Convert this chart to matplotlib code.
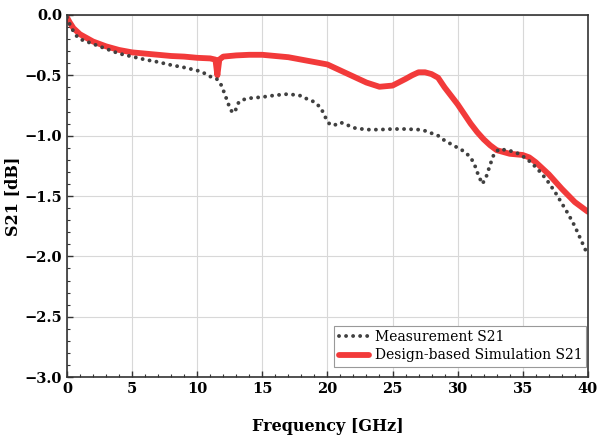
import matplotlib
matplotlib.use("Agg")
import matplotlib.pyplot as plt
from matplotlib.ticker import MultipleLocator

plt.rcParams['font.family'] = ['DejaVu Serif']

# Measurement S21 (dotted)
meas_f = [0, 0.3, 0.7, 1, 1.5, 2, 3, 4, 5, 6, 7, 8, 9, 10, 10.5, 11, 11.5, 11.8,
          12.1, 12.4, 12.7, 12.9, 13.2, 13.6, 14, 15, 16, 17, 18, 18.5, 19, 19.5,
          19.9, 20.2, 20.6, 21, 21.5, 22, 23, 24, 25, 26, 27, 27.5, 28, 28.5, 29,
          29.5, 30, 30.5, 31, 31.3, 31.6, 31.9, 32.2, 32.5, 32.8, 33.2, 34, 34.5,
          35, 35.5, 36, 36.5, 37, 37.5, 38, 38.5, 39, 39.5, 40]
meas_db = [-0.02, -0.10, -0.17, -0.20, -0.22, -0.24, -0.28, -0.32, -0.345, -0.37,
           -0.39, -0.415, -0.435, -0.46, -0.48, -0.51, -0.53, -0.57, -0.65, -0.74,
           -0.81, -0.80, -0.72, -0.70, -0.69, -0.68, -0.665, -0.655, -0.67, -0.70,
           -0.72, -0.77, -0.86, -0.91, -0.91, -0.89, -0.91, -0.935, -0.95, -0.95,
           -0.945, -0.945, -0.95, -0.96, -0.98, -1.00, -1.04, -1.07, -1.10, -1.13,
           -1.18, -1.24, -1.33, -1.40, -1.34, -1.24, -1.15, -1.11, -1.125, -1.14,
           -1.17, -1.21, -1.26, -1.32, -1.39, -1.47, -1.56, -1.65, -1.75, -1.87, -1.99]

# Design-based simulation S21 (solid red)
sim_f = [0, 0.2, 0.5, 1, 1.5, 2, 3, 4, 5, 6, 7, 8, 9, 10, 11, 11.4, 11.55, 11.7,
         12, 13, 14, 15, 16, 17, 18, 19, 20, 21, 22, 23, 24, 25, 26, 26.5, 27,
         27.5, 28, 28.5, 29, 29.5, 30, 30.5, 31, 31.5, 32, 32.5, 33, 34, 35, 35.5,
         36, 37, 38, 39, 40]
sim_db = [-0.02, -0.06, -0.11, -0.16, -0.19, -0.22, -0.26, -0.29, -0.31, -0.32,
          -0.33, -0.34, -0.345, -0.355, -0.36, -0.37, -0.50, -0.37, -0.345, -0.335,
          -0.33, -0.33, -0.34, -0.35, -0.37, -0.39, -0.41, -0.46, -0.51, -0.56,
          -0.595, -0.585, -0.53, -0.50, -0.475, -0.475, -0.49, -0.52, -0.60, -0.67,
          -0.74, -0.82, -0.90, -0.97, -1.03, -1.08, -1.12, -1.15, -1.16, -1.18,
          -1.22, -1.32, -1.44, -1.55, -1.63]

fig, ax = plt.subplots(figsize=(5.98, 4.40), dpi=100)
fig.subplots_adjust(left=0.112, right=0.983, top=0.966, bottom=0.143)

ax.plot(meas_f, meas_db, color='#404040', lw=2.8, linestyle=(0, (0.01, 1.8)),
        dash_capstyle='round', label='Measurement S21', zorder=3)
ax.plot(sim_f, sim_db, color='#f23a3a', lw=4.2, solid_capstyle='round',
        label='Design-based Simulation S21', zorder=2)

ax.set_xlim(0, 40)
ax.set_ylim(-3.0, 0.0)
ax.xaxis.set_major_locator(MultipleLocator(5))
ax.xaxis.set_minor_locator(MultipleLocator(1))
ax.yaxis.set_major_locator(MultipleLocator(0.5))
ax.yaxis.set_minor_locator(MultipleLocator(0.1))
ax.tick_params(which='both', direction='in', top=False, right=False, color='#333333')
ax.tick_params(which='major', length=4, width=1, labelsize=10.5)
ax.tick_params(which='minor', length=2.5, width=0.8)
for lab in ax.get_xticklabels() + ax.get_yticklabels():
    lab.set_fontweight('bold')

ax.grid(True, which='major', color='#d8d8d8', lw=0.8)
for s in ax.spines.values():
    s.set_color('#333333')
    s.set_linewidth(1.2)

ax.set_xlabel('Frequency [GHz]', fontsize=11.5, fontweight='bold')
ax.set_ylabel('S21 [dB]', fontsize=11.5, fontweight='bold')
ax.xaxis.set_label_coords(0.5, -0.112)
ax.yaxis.set_label_coords(-0.088, 0.5)

leg = ax.legend(loc='lower right', bbox_to_anchor=(1.0, 0.025), fontsize=10,
                fancybox=False, framealpha=1, edgecolor='#999999',
                handlelength=2.2, handletextpad=0.4, borderpad=0.3,
                labelspacing=0.3, borderaxespad=0.1)
leg.get_frame().set_linewidth(0.8)

fig.savefig('out.png', dpi=100)
